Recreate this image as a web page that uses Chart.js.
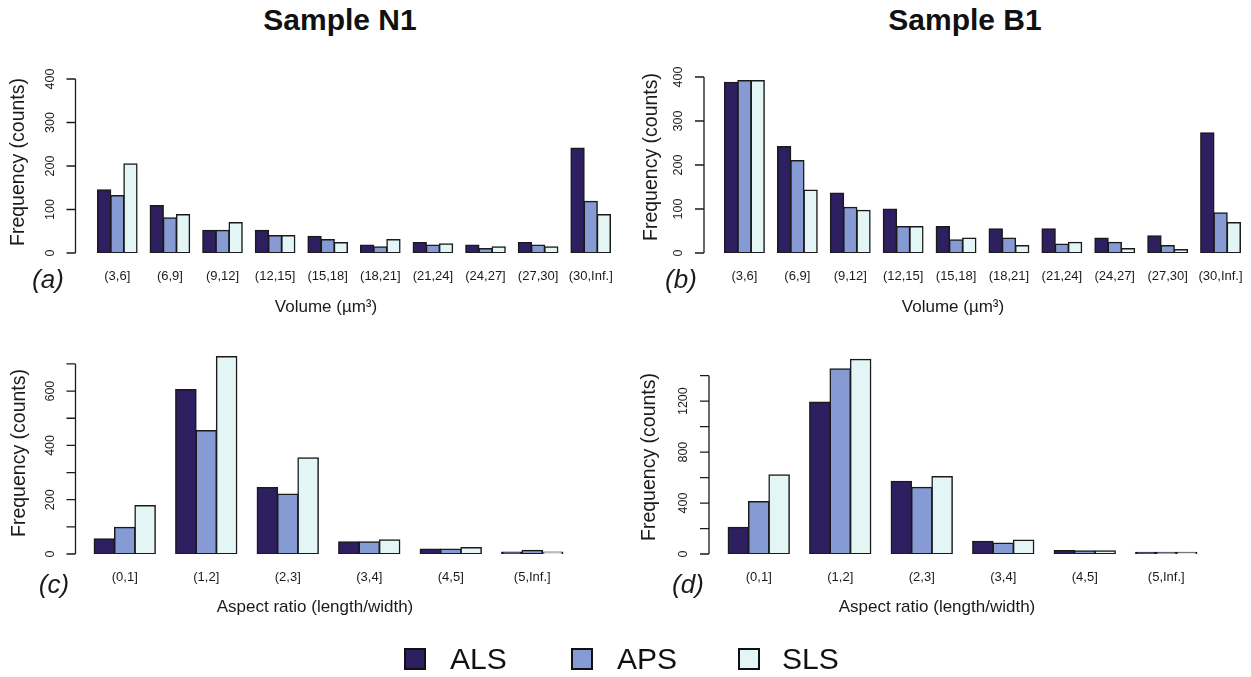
<!DOCTYPE html>
<html>
<head>
<meta charset="utf-8">
<script src="https://cdn.jsdelivr.net/npm/chart.js@4.4.1/dist/chart.umd.min.js"></script>
<style>
  body { margin: 0; background: #fff; }
  #page { position: relative; width: 1251px; height: 677px; overflow: hidden; font-family: "Liberation Sans", Arial, sans-serif; color: #111; }
  #page canvas { position: absolute; left: 0; top: 0; }
  .sample { position: absolute; top: 5px; font-size: 30px; font-weight: bold; line-height: 30px; transform: translateX(-50%); white-space: nowrap; }
  .key { position: absolute; top: 648px; width: 22px; height: 22px; box-sizing: border-box; border: 2px solid #111; }
  .keytext { position: absolute; top: 644px; font-size: 30px; line-height: 30px; }
</style>
</head>
<body>
<div id="page">
  <div class="sample" style="left:340px">Sample N1</div>
  <div class="sample" style="left:965px">Sample B1</div>
  <canvas id="chartA" width="1251" height="677"></canvas>
  <canvas id="chartB" width="1251" height="677"></canvas>
  <canvas id="chartC" width="1251" height="677"></canvas>
  <canvas id="chartD" width="1251" height="677"></canvas>
  <div id="legend"></div>
</div>
<script>
// bins
const volumeBins = ['(3,6]', '(6,9]', '(9,12]', '(12,15]', '(15,18]', '(18,21]', '(21,24]', '(24,27]', '(27,30]', '(30,Inf.]'];
const aspectBins = ['(0,1]', '(1,2]', '(2,3]', '(3,4]', '(4,5]', '(5,Inf.]'];
const methods = ['ALS', 'APS', 'SLS'];
const methodColors = ['#2e1f60', '#869bd4', '#e3f6f5'];

// Sample N1, volume
const n1VolALS = [145, 109, 52, 52, 38, 18, 24, 18, 24, 241];
const n1VolAPS = [132, 81, 52, 40, 31, 14, 18, 10, 18, 119];
const n1VolSLS = [205, 88, 70, 40, 24, 31, 21, 14, 14, 88];

// Sample B1, volume
const b1VolALS = [388, 242, 136, 100, 60, 55, 55, 34, 39, 273];
const b1VolAPS = [392, 210, 104, 60, 30, 34, 20, 24, 17, 91];
const b1VolSLS = [392, 143, 97, 60, 34, 17, 24, 10, 8, 69];

// Sample N1, aspect ratio
const n1AspALS = [56, 606, 245, 45, 18, 7];
const n1AspAPS = [98, 455, 221, 45, 18, 13];
const n1AspSLS = [178, 727, 354, 52, 24, 7];

// Sample B1, aspect ratio
const b1AspALS = [209, 1192, 571, 99, 26, 12];
const b1AspAPS = [412, 1453, 524, 86, 25, 12];
const b1AspSLS = [621, 1529, 608, 110, 25, 12];

// y axis ticks (blank label = tick mark only)
const volTicks = [0, 100, 200, 300, 400];
const volTickLabels = ['0', '100', '200', '300', '400'];
const n1AspTicks = [0, 100, 200, 300, 400, 500, 600, 700];
const n1AspTickLabels = ['0', '', '200', '', '400', '', '600', ''];
const b1AspTicks = [0, 200, 400, 600, 800, 1000, 1200, 1400];
const b1AspTickLabels = ['0', '', '400', '', '800', '', '1200', ''];

const ink = '#1a1a1a';
const W = 1251, H = 677;

// base-graphics style y axis, axis titles and panel letter
const rAxisPlugin = {
  id: 'rAxis',
  afterDraw(chart) {
    const p = chart.options.plugins.rAxis;
    const ctx = chart.ctx;
    const y = chart.scales.y;
    ctx.save();
    ctx.strokeStyle = ink;
    ctx.fillStyle = ink;
    ctx.lineWidth = 1.3;
    ctx.beginPath();
    ctx.moveTo(p.axisX, y.getPixelForValue(p.ticks[0]));
    ctx.lineTo(p.axisX, y.getPixelForValue(p.ticks[p.ticks.length - 1]));
    p.ticks.forEach(v => {
      const py = y.getPixelForValue(v);
      ctx.moveTo(p.axisX - 9, py);
      ctx.lineTo(p.axisX, py);
    });
    ctx.stroke();

    ctx.textAlign = 'center';
    ctx.textBaseline = 'middle';
    ctx.font = '12.5px "Liberation Sans", Arial, sans-serif';
    p.ticks.forEach((v, i) => {
      if (!p.tickLabels[i]) return;
      ctx.save();
      ctx.translate(p.axisX - 25, y.getPixelForValue(v));
      ctx.rotate(-Math.PI / 2);
      ctx.fillText(p.tickLabels[i], 0, 0);
      ctx.restore();
    });

    ctx.font = '19.5px "Liberation Sans", Arial, sans-serif';
    ctx.save();
    ctx.translate(p.yTitle[0], p.yTitle[1]);
    ctx.rotate(-Math.PI / 2);
    ctx.fillText('Frequency (counts)', 0, 0);
    ctx.restore();

    ctx.font = '17px "Liberation Sans", Arial, sans-serif';
    ctx.fillText(p.xTitle, p.xTitlePos[0], p.xTitlePos[1]);

    ctx.font = 'italic 26px "Liberation Sans", Arial, sans-serif';
    ctx.fillText(p.letter, p.letterPos[0], p.letterPos[1]);
    ctx.restore();
  }
};

const panels = [
  { id: 'chartA', labels: volumeBins, series: [n1VolALS, n1VolAPS, n1VolSLS], yMax: 400,
    ticks: volTicks, tickLabels: volTickLabels, area: { left: 91, right: 617, top: 79, bottom: 253 },
    axisX: 75.5, yTitle: [19, 162], xTitle: 'Volume (µm³)', xTitlePos: [326, 307], letter: '(a)', letterPos: [48, 281] },
  { id: 'chartB', labels: volumeBins, series: [b1VolALS, b1VolAPS, b1VolSLS], yMax: 400,
    ticks: volTicks, tickLabels: volTickLabels, area: { left: 718, right: 1247, top: 77, bottom: 253 },
    axisX: 704, yTitle: [652, 157], xTitle: 'Volume (µm³)', xTitlePos: [953, 307], letter: '(b)', letterPos: [681, 281] },
  { id: 'chartC', labels: aspectBins, series: [n1AspALS, n1AspAPS, n1AspSLS], yMax: 750,
    ticks: n1AspTicks, tickLabels: n1AspTickLabels, area: { left: 84, right: 573, top: 350.4, bottom: 554 },
    axisX: 75.5, yTitle: [20, 453], xTitle: 'Aspect ratio (length/width)', xTitlePos: [315, 607], letter: '(c)', letterPos: [54, 586] },
  { id: 'chartD', labels: aspectBins, series: [b1AspALS, b1AspAPS, b1AspSLS], yMax: 1560,
    ticks: b1AspTicks, tickLabels: b1AspTickLabels, area: { left: 718, right: 1207, top: 355.3, bottom: 554 },
    axisX: 709, yTitle: [650, 457], xTitle: 'Aspect ratio (length/width)', xTitlePos: [937, 607], letter: '(d)', letterPos: [688, 586] }
];

panels.forEach(p => {
  new Chart(document.getElementById(p.id), {
    type: 'bar',
    data: {
      labels: p.labels,
      datasets: p.series.map((values, i) => ({
        label: methods[i],
        data: values,
        backgroundColor: methodColors[i],
        borderColor: ink,
        borderWidth: 1.5,
        borderSkipped: false,
        inflateAmount: 0.6,
        barPercentage: 1,
        categoryPercentage: 0.75
      }))
    },
    options: {
      responsive: false,
      animation: false,
      devicePixelRatio: 1,
      layout: { padding: { left: 0, top: p.area.top, right: W - p.area.right, bottom: 0 } },
      scales: {
        x: {
          grid: { display: false, drawTicks: false },
          border: { display: false },
          ticks: { color: ink, padding: 16, autoSkip: false, maxRotation: 0,
                   font: { family: '"Liberation Sans", Arial, sans-serif', size: 13 } },
          afterFit: s => { s.height = H - p.area.bottom; s.paddingLeft = 0; s.paddingRight = 0; }
        },
        y: {
          min: 0,
          max: p.yMax,
          grid: { display: false, drawTicks: false },
          border: { display: false },
          ticks: { display: false },
          afterFit: s => { s.width = p.area.left; }
        }
      },
      plugins: {
        legend: { display: false },
        tooltip: { enabled: false },
        rAxis: p
      }
    },
    plugins: [rAxisPlugin]
  });
});

// legend keys
const legend = document.getElementById('legend');
const keyX = [404, 571, 738];
const keyTextX = [450, 617, 782];
methods.forEach((m, i) => {
  const box = document.createElement('div');
  box.className = 'key';
  box.style.left = keyX[i] + 'px';
  box.style.background = methodColors[i];
  legend.appendChild(box);
  const t = document.createElement('div');
  t.className = 'keytext';
  t.style.left = keyTextX[i] + 'px';
  t.textContent = m;
  legend.appendChild(t);
});
</script>
</body>
</html>
